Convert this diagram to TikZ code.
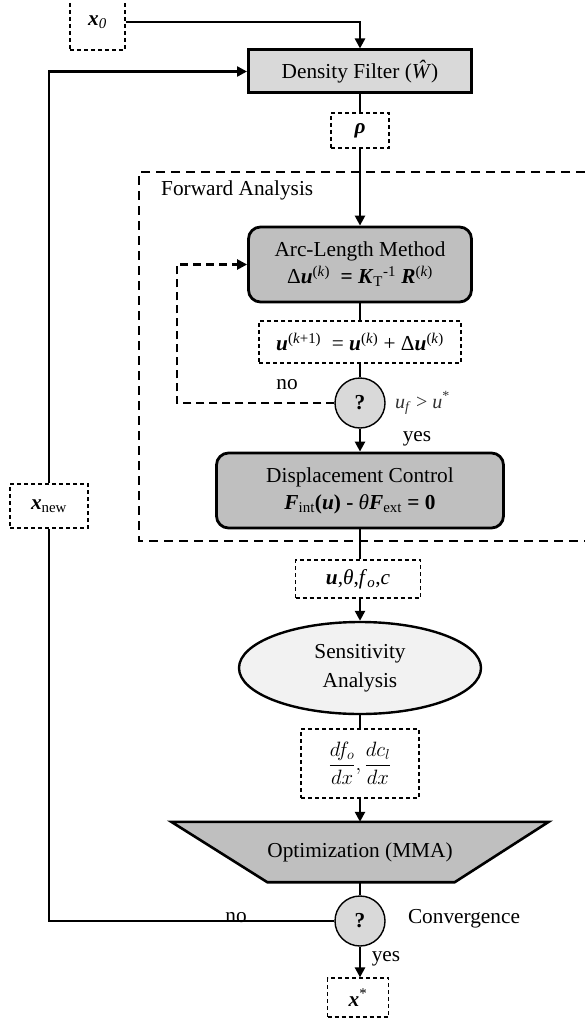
\documentclass[tikz,border=0pt]{standalone}
\usepackage{fontspec}
\setmainfont{Liberation Serif}
\usetikzlibrary{arrows.meta,shapes.geometric,backgrounds}
\newcommand{\bi}[1]{\textbf{\textit{#1}}}
\definecolor{boxlight}{HTML}{D9D9D9}
\definecolor{boxmid}{HTML}{BFBFBF}
\definecolor{boxpale}{HTML}{F2F2F2}

\begin{document}
\begin{tikzpicture}[x=1pt,y=-1pt,
  every node/.style={font=\fontsize{21.3}{25}\selectfont, inner sep=0pt},
  conn/.style={line width=2.4pt},
  arr/.style={conn,-{Triangle[length=10pt,width=10pt]}},
  loopline/.style={line width=2.4pt,dash pattern=on 8pt off 5pt,-{Triangle[length=10pt,width=10pt]}},
  framedash/.style={line width=2.4pt,dash pattern=on 9pt off 6pt},
  databox/.style={draw,line width=1.2pt,dash pattern=on 4pt off 3pt,fill=white,align=center},
  filterbox/.style={draw,line width=3pt,fill=boxlight},
  solverbox/.style={draw,line width=2.8pt,fill=boxmid,rounded corners=12pt,align=center,
    font=\fontsize{21.3}{27}\selectfont},
  decide/.style={draw,circle,line width=1.4pt,fill=boxlight,minimum size=50pt},
  sensbox/.style={draw,ellipse,line width=2.4pt,fill=boxpale,align=center,
    font=\fontsize{21.3}{29}\selectfont},
  optbox/.style={draw,line width=2.6pt,fill=boxmid}
]
\useasboundingbox (0,0) rectangle (585,1022);

% frame around the forward analysis
\draw[framedash] (600,172) -- (139,172) -- (139,541) -- (600,541);
\node[anchor=west] (fwd) at (161,190) {Forward Analysis};

% main column
\node[databox,minimum width=55,minimum height=56] (x0) at (97.5,22) {\bi{x}\textsubscript{\textit{0}}};
\node[filterbox,minimum width=223,minimum height=43] (dens) at (360,71.5) {Density Filter (\textit{Ŵ})};
\node[databox,minimum width=58,minimum height=35] (rho) at (360,130.5) {\bi{ρ}};
\node[solverbox,minimum width=223,minimum height=75] (arc) at (360,264.5)
  {Arc-Length Method\\Δ\bi{u}\textsuperscript{(\textit{k})}\ \ \textbf{=} \bi{K}\textsubscript{T}\textsuperscript{-1} \bi{R}\textsuperscript{(\textit{k})}};
\node[databox,minimum width=202,minimum height=42] (ubox) at (360,342)
  {\bi{u}\textsuperscript{(\textit{k}+1)}\ \ = \bi{u}\textsuperscript{(\textit{k})} + Δ\bi{u}\textsuperscript{(\textit{k})}};
\node[decide] (q1) at (360,403) {\textbf{?}};
\node[solverbox,minimum width=287,minimum height=75] (disp) at (360,490.5)
  {Displacement Control\\\bi{F}\textsubscript{int}\textbf{(}\bi{u}\textbf{)} \textbf{-} \textit{θ}\bi{F}\textsubscript{ext} \textbf{= 0}};
\node[databox,minimum width=125,minimum height=38] (uth) at (358,579)
  {\bi{u},\textit{θ},\textit{f}\textsubscript{\textit{o}},\textit{c}};
\node[sensbox,minimum width=242,minimum height=92] (sens) at (360,668) {Sensitivity\\Analysis};
\node[databox,minimum width=118,minimum height=69] (dfb) at (360,763.5)
  {$\displaystyle\frac{df_o}{dx},\frac{dc_l}{dx}$};
\node[minimum width=377,minimum height=60] (opt) at (360,852) {Optimization (MMA)};
\begin{pgfonlayer}{background}
  \draw[optbox] (opt.north west) -- (opt.north east) -- ([xshift=-94pt]opt.south east)
    -- ([xshift=96pt]opt.south west) -- cycle;
\end{pgfonlayer}
\node[decide] (q2) at (360,921) {\textbf{?}};
\node[databox,minimum width=61,minimum height=39] (xstar) at (358,997.5) {\bi{x}\textsuperscript{*}};
\node[databox,minimum width=78,minimum height=44] (xnew) at (49,506) {\bi{x}\textsubscript{new}};

% labels
\node (no1) at (287,385) {no};
\node[anchor=west,text=black!80,font=\fontsize{20}{23}\selectfont] (cond) at (395,403)
  {\textit{u}\textsubscript{\textit{f}} > \textit{u}\textsuperscript{*}};
\node (yes1) at (417,439) {yes};
\node[anchor=base] (no2) at (236,922) {no};
\node (conv) at (464,919) {Convergence};
\node (yes2) at (386,959) {yes};

% connectors
\draw[arr] (x0.east) -| (dens.north);
\draw[conn] (dens.south) -- (rho.north);
\draw[arr] (rho.south) -- (arc.north);
\draw[conn] (arc.south) -- (ubox.north);
\draw[conn] (ubox.south) -- (q1.north);
\draw[arr] (q1.south) -- (disp.north);
\coordinate (lp) at (177,403);
\draw[loopline] (q1.west) -- (lp) |- (arc.west);
\draw[conn] (disp.south) -- (disp.south |- uth.north);
\draw[arr] (disp.south |- uth.south) -- (sens.north);
\draw[conn] (sens.south) -- (dfb.north);
\draw[arr] (dfb.south) -- (opt.north);
\draw[conn] (opt.south) -- (q2.north);
\draw[arr] (q2.south) -- (q2.south |- xstar.north);
\draw[conn] (q2.west) -| (xnew.south);
\draw[arr] (xnew.north) |- (dens.west);
\end{tikzpicture}
\end{document}
